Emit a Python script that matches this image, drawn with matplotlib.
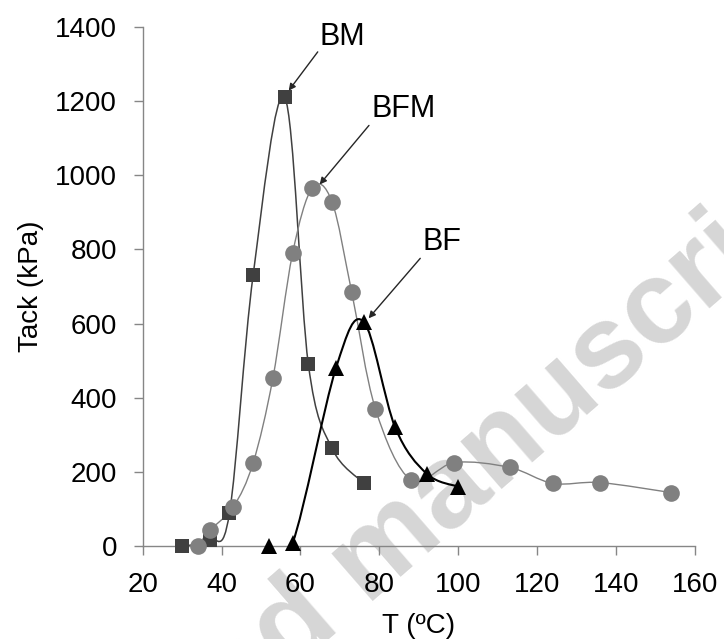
import numpy as np
import matplotlib
matplotlib.use('Agg')
import matplotlib.pyplot as plt
from matplotlib.path import Path
from matplotlib.patches import PathPatch
from matplotlib.transforms import ScaledTranslation

plt.rcParams['font.family'] = ['Liberation Sans', 'DejaVu Sans']

# Tack vs temperature, three blends
bm_T = [30, 37, 42, 48, 56, 62, 68, 76]
bm_tack = [0, 15, 88, 730, 1210, 490, 263, 170]

bfm_T = [34, 37, 43, 48, 53, 58, 63, 68, 73, 79, 88, 99, 113, 124, 136, 154]
bfm_tack = [0, 42, 106, 224, 452, 789, 966, 928, 684, 370, 178, 225, 212, 169, 171, 144]

bf_T = [52, 58, 69, 76, 84, 92, 100]
bf_tack = [0, 8, 480, 605, 320, 195, 160]

x_ticks = [20, 40, 60, 80, 100, 120, 140, 160]
y_ticks = [0, 200, 400, 600, 800, 1000, 1200, 1400]

axis_grey = '#868686'


def smooth_path(xs, ys):
	# Excel style smoothed line: bezier segments with catmull-rom handles
	p = np.column_stack([xs, ys]).astype(float)
	n = len(p)
	verts = [p[0]]
	codes = [Path.MOVETO]
	for i in range(n-1):
		p0 = p[max(i-1, 0)]
		p1 = p[i]
		p2 = p[i+1]
		p3 = p[min(i+2, n-1)]
		verts += [p1 + (p2-p0)/6, p2 - (p3-p1)/6, p2]
		codes += [Path.CURVE4]*3
	return Path(verts, codes)


fig = plt.figure(figsize=(7.24, 6.39), dpi=100)
ax = fig.add_axes([0.197, 0.1455, 0.763, 0.8125])
ax.patch.set_visible(False)

# watermark behind the chart
fig.text(0.545, 0.088, 'Accepted manuscript', rotation=41, ha='center', va='baseline',
	rotation_mode='anchor', fontsize=85, fontweight='bold', color='#d6d6d6', zorder=-1)

series = [
	(bm_T, bm_tack, 's', '#404040', 1.1, 9.5),
	(bfm_T, bfm_tack, 'o', '#808080', 1.0, 12),
	(bf_T, bf_tack, '^', 'black', 1.5, 11.5),
]
for xs, ys, mk, c, lw, ms in series:
	# lines stay inside the plot area, markers may sit over the axis
	ax.add_patch(PathPatch(smooth_path(xs, ys), fill=False, edgecolor=c, lw=lw, zorder=2))
	ax.plot(xs, ys, linestyle='none', marker=mk, color=c, markersize=ms, markeredgewidth=0,
		zorder=3, clip_on=False)

ax.set_xlim(20, 160)
ax.set_ylim(0, 1400)
ax.set_xticks(x_ticks)
ax.set_yticks(y_ticks)

for s in ['top', 'right']:
	ax.spines[s].set_visible(False)
for s in ['left', 'bottom']:
	ax.spines[s].set_color(axis_grey)
	ax.spines[s].set_linewidth(1)
ax.tick_params(axis='both', direction='out', length=6.5, width=1, color=axis_grey,
	labelsize=20, pad=12)

ax.set_xlabel('T (ºC)', fontsize=20, labelpad=11)
ax.set_ylabel('Tack (kPa)', fontsize=20, labelpad=8)

# labels with arrows pointing to each peak (offsets in points from the peak)
notes = [
	('BM', bm_T, bm_tack, (2.9, 4.8), (23.8, 32.7), (41.5, 43.3)),
	('BFM', bfm_T, bfm_tack, (5.3, 2.4), (40.8, 44.9), (66.1, 56.4)),
	('BF', bf_T, bf_tack, (3.6, 2.4), (40.8, 45.6), (56.7, 57.4)),
]
for name, xs, ys, tip, start, txt in notes:
	k = int(np.argmax(ys))
	pt = (xs[k], ys[k])
	tip_t = ax.transData + ScaledTranslation(tip[0]/72, tip[1]/72, fig.dpi_scale_trans)
	start_t = ax.transData + ScaledTranslation(start[0]/72, start[1]/72, fig.dpi_scale_trans)
	ax.annotate('', xy=pt, xycoords=tip_t, xytext=pt, textcoords=start_t,
		arrowprops=dict(arrowstyle='-|>', color='#262626', lw=1, mutation_scale=10,
			shrinkA=0, shrinkB=0), zorder=4)
	ax.annotate(name, xy=pt, xytext=txt, textcoords='offset points', ha='center', va='center',
		fontsize=22, zorder=4)

plt.savefig('out.png', dpi=100)
